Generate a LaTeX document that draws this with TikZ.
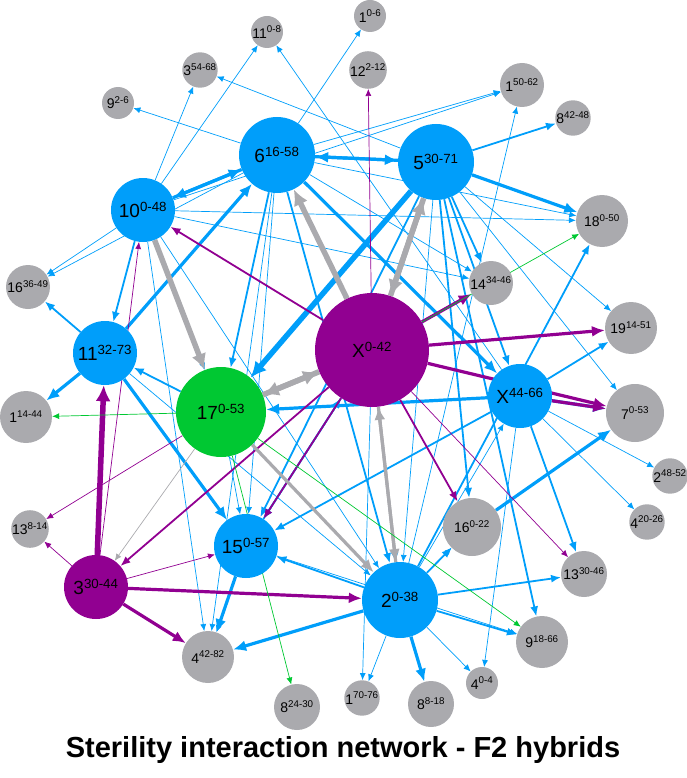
\documentclass[tikz,border=0pt]{standalone}
\usepackage{fontspec}
\setmainfont{Liberation Sans}
\usetikzlibrary{arrows.meta}
\definecolor{netblue}{RGB}{0,158,250}
\definecolor{netpurple}{RGB}{145,0,145}
\definecolor{netgreen}{RGB}{0,200,50}
\definecolor{netgray}{RGB}{170,170,174}
\pgfdeclarelayer{links}
\pgfsetlayers{links,main}
\newcommand{\lab}[2]{#1\textsuperscript{#2}}
\tikzset{
  hub/.style={circle, inner sep=0pt, font=\fontsize{19}{19}\selectfont},
  leaf/.style={circle, inner sep=0pt, fill=netgray, font=\fontsize{14}{14}\selectfont},
  bn/.style={hub, fill=netblue},
  pn/.style={hub, fill=netpurple},
  gn/.style={hub, fill=netgreen},
  thin1/.style={line width=0.7pt, >={Latex[length=7pt,width=6pt]}},
  mid1/.style={line width=1.8pt, >={Latex[length=10pt,width=8pt]}},
  thick1/.style={line width=3.2pt, >={Latex[length=13pt,width=11pt]}},
  huge1/.style={line width=5.5pt, >={Latex[length=16pt,width=15pt]}}
}
\begin{document}
\begin{tikzpicture}[x=1pt,y=-1pt]
\useasboundingbox (0,0) rectangle (687,778);
% leaves
\node (n11a) at (267,32) [leaf, minimum size=32pt] {\lab{11}{0-8}};
\node (n1a) at (370,16) [leaf, minimum size=32pt] {\lab{1}{0-6}};
\node (n3a) at (200,70) [leaf, minimum size=32pt] {\lab{3}{54-68}};
\node (n12) at (368,70) [leaf, minimum size=32pt] {\lab{12}{2-12}};
\node (n9a) at (118,103) [leaf, minimum size=32pt] {\lab{9}{2-6}};
\node (n1b) at (522,85) [leaf, minimum size=44pt] {\lab{1}{50-62}};
\node (n8a) at (573,118) [leaf, minimum size=32pt] {\lab{8}{42-48}};
\node (n18) at (602,221) [leaf, minimum size=52pt] {\lab{18}{0-50}};
\node (n16a) at (28,287) [leaf, minimum size=44pt] {\lab{16}{36-49}};
\node (n14) at (491,283) [leaf, minimum size=44pt] {\lab{14}{34-46}};
\node (n19) at (631,328) [leaf, minimum size=52pt] {\lab{19}{14-51}};
\node (n7) at (635,413) [leaf, minimum size=58pt] {\lab{7}{0-53}};
\node (n1c) at (26,417) [leaf, minimum size=52pt] {\lab{1}{14-44}};
\node (n2b) at (670,476) [leaf, minimum size=32pt] {\lab{2}{48-52}};
\node (n16b) at (472,527) [leaf, minimum size=58pt] {\lab{16}{0-22}};
\node (n4b) at (647,522) [leaf, minimum size=32pt] {\lab{4}{20-26}};
\node (n13a) at (30,529) [leaf, minimum size=32pt] {\lab{13}{8-14}};
\node (n13b) at (584,574) [leaf, minimum size=46pt] {\lab{13}{30-46}};
\node (n9b) at (542,642) [leaf, minimum size=52pt] {\lab{9}{18-66}};
\node (n4a) at (208,657) [leaf, minimum size=52pt] {\lab{4}{42-82}};
\node (n8b) at (297,707) [leaf, minimum size=46pt] {\lab{8}{24-30}};
\node (n1d) at (362,698) [leaf, minimum size=32pt] {\lab{1}{70-76}};
\node (n8c) at (431,704) [leaf, minimum size=46pt] {\lab{8}{8-18}};
\node (n4c) at (482,683) [leaf, minimum size=32pt] {\lab{4}{0-4}};
% hubs
\node (n6) at (277,155) [bn, minimum size=76pt] {\lab{6}{16-58}};
\node (n5) at (436,162) [bn, minimum size=76pt] {\lab{5}{30-71}};
\node (n10) at (143,210) [bn, minimum size=64pt] {\lab{10}{0-48}};
\node (nX) at (372,350) [pn, minimum size=114pt] {\lab{X}{0-42}};
\node (n11) at (105,353) [bn, minimum size=64pt] {\lab{11}{32-73}};
\node (nXb) at (520,396) [bn, minimum size=64pt] {\lab{X}{44-66}};
\node (n17) at (221,412) [gn, minimum size=90pt] {\lab{17}{0-53}};
\node (n15) at (246,546) [bn, minimum size=64pt] {\lab{15}{0-57}};
\node (n3) at (96,587) [pn, minimum size=64pt] {\lab{3}{30-44}};
\node (n2) at (400,600) [bn, minimum size=76pt] {\lab{2}{0-38}};
\node (title) at (343,750) [font=\bfseries\fontsize{29}{29}\selectfont] {Sterility interaction network - F2 hybrids};
\begin{pgfonlayer}{links}
% blue links
\path[->,netblue,thin1]
  (n10) edge (n11a) (n10) edge (n3a) (n6) edge (n9a) (n6) edge (n1a)
  (n10) edge (n16a) (n6) edge (n16a) (n10) edge (n18) (n10) edge (n4a)
  (n10) edge (n14) (n6) edge (n1b) (n10) edge (n1b) (n6) edge (n14)
  (n11a) edge[<-] (nXb) (n3a) edge[<-] (n5) (n5) edge (n19) (n5) edge (n7)
  (n6) edge (n15) (n10) edge (n2) (n10) edge (n17)
  (n11) edge (n2) (n17) edge (n15) (nXb) edge (n2b) (nXb) edge (n4b)
  (nXb) edge (n4c) (n2) edge (n1d) (n2) edge (n4c) (n15) edge (n9b)
  (n15) edge (n4a) (n6) edge (n4a) (n1b) edge[<-] (n2) (n2) edge (nXb)
  (nX) edge (n1d) (n5) edge (n2) (n16b) edge[<-] (n2) (n6) edge (n18);
\path[->,netblue,mid1]
  (n10) edge (n11) (n11) edge (n16a) (n6) edge (n17) (n6) edge (n2)
  (n5) edge (nXb) (n5) edge (n14) (n5) edge (n9b) (n5) edge (n8a)
  (n5) edge (n15) (nXb) edge (n13b) (nXb) edge (n19) (nXb) edge (n15)
  (n2) edge (n13b) (n2) edge (n9b) (n2) edge (n15) (n2) edge (n16b)
  (nX) edge (n2) (n15) edge (nX) (n17) edge (n11) (n2) edge (n18)
  (n5) edge (n16b) (nX) edge (n15);
\path[->,netblue,thick1]
  (n6) edge (n10) (n10) edge (n6) (n5) edge (n6) (n6) edge (n5)
  (n5) edge (n18) (n11) edge (n6) (n11) edge (n1c) (n11) edge (n15)
  (n6) edge (nXb) (nXb) edge (n17) (nXb) edge (n7) (n16b) edge (n7)
  (n15) edge (n4a) (n2) edge (n8c) (n2) edge (n4a);
\path[->,netblue,huge1] (n5) edge (n17);
% purple links
\path[->,netpurple,thin1]
  (nX) edge (n12) (nX) edge (n13b) (n3) edge (n13a) (n17) edge (n13a)
  (n3) edge (n15) (n3) edge (n10);
\path[->,netpurple,mid1]
  (nX) edge (n10) (nX) edge (n3) (nX) edge (n16b) (nX) edge (n15);
\path[->,netpurple,thick1]
  (nX) edge (n14) (nX) edge (n19) (nXb) edge (n7) (nX) edge (n7)
  (n3) edge (n2) (n3) edge (n4a);
\path[->,netpurple,huge1] (n3) edge (n11);
% gray links
\path[->,netgray,thin1] (n17) edge (n3);
\path[->,netgray,thick1] (n17) edge (n2) (nX) edge (n2) (n2) edge (nX);
\path[->,netgray,huge1]
  (nX) edge (n6) (nX) edge (n5) (n5) edge (nX) (n10) edge (n17) (nX) edge (n17) (n17) edge (nX);
% green links
\path[->,netgreen,thin1]
  (n17) edge (n1c) (n17) edge (n9b) (n17) edge (n8b) (nX) edge (n18);
\end{pgfonlayer}
\end{tikzpicture}
\end{document}
